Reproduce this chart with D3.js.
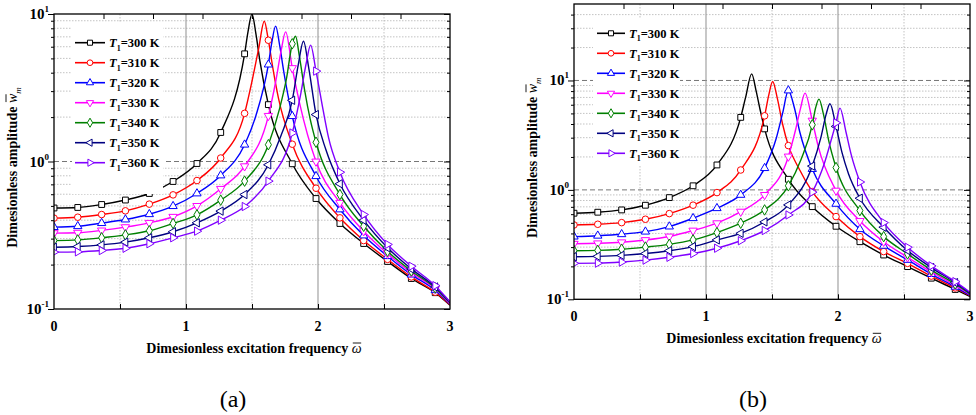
<!DOCTYPE html>
<html>
<head>
<meta charset="utf-8">
<script src="https://cdn.jsdelivr.net/npm/d3@7"></script>
<style>
  body { margin: 0; background: #fff; }
  svg { display: block; font-family: "Liberation Serif", "Times New Roman", serif; }
</style>
</head>
<body>
<svg id="chart" width="976" height="415"></svg>
<script>
// temperatures and the shared marker positions along the frequency axis
const temps = ["300", "310", "320", "330", "340", "350", "360"];
const markerX = [0, 0.18, 0.361, 0.541, 0.722, 0.902, 1.083, 1.263, 1.444, 1.624, 1.805, 1.985, 2.166, 2.346, 2.527, 2.707, 2.888];

// panel (a): amplitudes at the marker positions
const a300 = [0.484, 0.488, 0.511, 0.548, 0.607, 0.732, 0.969, 1.573, 5.37, 2.43, 0.965, 0.561, 0.380, 0.278, 0.210, 0.161, 0.129];
const a310 = [0.413, 0.419, 0.437, 0.463, 0.514, 0.594, 0.743, 1.056, 2.12, 6.64, 1.31, 0.659, 0.415, 0.291, 0.217, 0.165, 0.130];
const a320 = [0.359, 0.364, 0.382, 0.404, 0.439, 0.498, 0.607, 0.804, 1.30, 4.54, 2.03, 0.795, 0.473, 0.315, 0.228, 0.171, 0.134];
const a330 = [0.327, 0.329, 0.341, 0.359, 0.384, 0.422, 0.500, 0.653, 0.929, 2.04, 4.3, 1.00, 0.525, 0.337, 0.237, 0.176, 0.137];
const a340 = [0.291, 0.294, 0.304, 0.318, 0.339, 0.380, 0.435, 0.547, 0.736, 1.30, 6.28, 1.35, 0.597, 0.364, 0.246, 0.181, 0.139];
const a350 = [0.262, 0.265, 0.272, 0.284, 0.304, 0.334, 0.384, 0.461, 0.597, 0.95, 2.6, 2.08, 0.706, 0.400, 0.260, 0.187, 0.141];
const a360 = [0.243, 0.244, 0.249, 0.258, 0.277, 0.304, 0.337, 0.400, 0.495, 0.736, 1.56, 4.1, 0.846, 0.437, 0.274, 0.195, 0.144];
// panel (a): extra curve points around the resonance peaks and the end value
const ae300 = [[1.47, 7.6], [1.50, 10.0], [1.53, 7.3], [1.56, 4.8], [3, 0.106]];
const ae310 = [[1.50, 3.5], [1.55, 5.8], [1.593, 8.94], [1.66, 4.2], [1.70, 2.7], [3, 0.107]];
const ae320 = [[1.53, 2.05], [1.65, 6.4], [1.679, 8.27], [1.71, 6.1], [1.74, 4.1], [3, 0.108]];
const ae330 = [[1.68, 3.5], [1.72, 5.6], [1.755, 7.57], [1.86, 2.5], [3, 0.109]];
const ae340 = [[1.71, 2.3], [1.76, 3.6], [1.83, 7.07], [1.86, 5.1], [1.90, 3.0], [1.94, 1.95], [3, 0.110]];
const ae350 = [[1.72, 1.5], [1.85, 4.5], [1.89, 6.54], [1.93, 4.3], [2.06, 1.2], [3, 0.111]];
const ae360 = [[1.87, 2.9], [1.91, 4.6], [1.944, 6.15], [2.04, 2.2], [2.08, 1.45], [3, 0.112]];

// panel (b): amplitudes at the marker positions
const b300 = [0.612, 0.625, 0.656, 0.724, 0.85, 1.09, 1.69, 4.6, 3.61, 1.25, 0.703, 0.465, 0.336, 0.254, 0.199, 0.156, 0.123];
const b310 = [0.478, 0.485, 0.502, 0.539, 0.607, 0.725, 0.945, 1.52, 4.75, 2.54, 0.965, 0.57, 0.374, 0.273, 0.213, 0.163, 0.127];
const b320 = [0.374, 0.381, 0.393, 0.415, 0.462, 0.551, 0.68, 0.90, 1.58, 8.1, 1.55, 0.745, 0.437, 0.308, 0.229, 0.170, 0.130];
const b330 = [0.322, 0.325, 0.332, 0.348, 0.375, 0.425, 0.496, 0.633, 0.90, 2.02, 4.3, 0.985, 0.52, 0.336, 0.242, 0.178, 0.134];
const b340 = [0.278, 0.280, 0.287, 0.300, 0.318, 0.349, 0.407, 0.496, 0.656, 1.09, 3.93, 1.60, 0.647, 0.374, 0.260, 0.185, 0.138];
const b350 = [0.245, 0.247, 0.252, 0.262, 0.278, 0.303, 0.349, 0.401, 0.51, 0.729, 1.65, 3.8, 0.839, 0.456, 0.279, 0.195, 0.142];
const b360 = [0.213, 0.214, 0.219, 0.228, 0.242, 0.262, 0.293, 0.343, 0.425, 0.59, 0.953, 4.1, 1.18, 0.502, 0.299, 0.202, 0.145];
// panel (b): extra curve points
const be300 = [[1.30, 7.0], [1.346, 11.5], [1.38, 8.0], [1.41, 5.4], [3, 0.106]];
const be310 = [[1.475, 7.3], [1.505, 9.8], [1.54, 6.9], [1.58, 4.0], [1.70, 1.6], [3, 0.108]];
const be320 = [[1.53, 2.9], [1.58, 5.0], [1.67, 5.6], [1.71, 3.4], [3, 0.109]];
const be330 = [[1.68, 3.6], [1.715, 5.5], [1.75, 7.67], [1.85, 2.5], [3, 0.111]];
const be340 = [[1.72, 1.9], [1.83, 5.6], [1.856, 6.76], [1.89, 4.9], [1.93, 2.8], [3, 0.112]];
const be350 = [[1.87, 3.0], [1.91, 4.9], [1.939, 6.12], [2.03, 2.2], [2.08, 1.4], [3, 0.114]];
const be360 = [[1.90, 1.8], [1.95, 2.9], [2.015, 5.59], [2.06, 3.4], [2.10, 2.1], [3, 0.116]];

const xTicks = [0, 1, 2, 3];

const colors = ["#000000", "#ff0000", "#0000ff", "#ff00ff", "#008000", "#000080", "#8000ff"];
const shapes = [
  { type: d3.symbolSquare, size: 34, rot: 0 },
  { type: d3.symbolCircle, size: 34, rot: 0 },
  { type: d3.symbolTriangle, size: 30, rot: 0 },
  { type: d3.symbolTriangle, size: 30, rot: 180 },
  { type: d3.symbolDiamond, size: 32, rot: 0 },
  { type: d3.symbolTriangle, size: 30, rot: -90 },
  { type: d3.symbolTriangle, size: 30, rot: 90 }
];

const panels = [
  {
    id: "a", left: 54, right: 450, top: 14, bottom: 309, ymax: 10,
    series: [a300, a310, a320, a330, a340, a350, a360],
    extras: [ae300, ae310, ae320, ae330, ae340, ae350, ae360],
    legend: { x: 72, y: 23, w: 91, h: 171, lx0: 75, lx1: 105, tx: 109, y0: 42.7, dy: 20 },
    label: "(a)", labelX: 233
  },
  {
    id: "b", left: 574, right: 970, top: 4, bottom: 299.3, ymax: 50,
    series: [b300, b310, b320, b330, b340, b350, b360],
    extras: [be300, be310, be320, be330, be340, be350, be360],
    legend: { x: 593, y: 18, w: 87, h: 147, lx0: 597, lx1: 625, tx: 629, y0: 33.3, dy: 20 },
    label: "(b)", labelX: 753
  }
];

const svg = d3.select("#chart");
const defs = svg.append("defs");

function marker(sel, i, cx, cy, scale) {
  const s = shapes[i];
  sel.append("path")
    .attr("d", d3.symbol().type(s.type).size(s.size * (scale || 1))())
    .attr("transform", `translate(${cx},${cy}) rotate(${s.rot})`)
    .attr("fill", "#fff")
    .attr("stroke", colors[i])
    .attr("stroke-width", 1);
}

function overline(g, textEl, charIndex, dy) {
  const box = textEl.getExtentOfChar(charIndex);
  g.append("line")
    .attr("x1", box.x + 1).attr("x2", box.x + box.width - 0.5)
    .attr("y1", box.y + dy).attr("y2", box.y + dy)
    .attr("stroke", "#000").attr("stroke-width", 0.9);
}

function drawPanel(p) {
  const x = d3.scaleLinear().domain([0, 3]).range([p.left, p.right]);
  const y = d3.scaleLog().domain([0.1, p.ymax]).range([p.bottom, p.top]);
  const g = svg.append("g");

  defs.append("clipPath").attr("id", "clip-" + p.id)
    .append("rect")
    .attr("x", p.left).attr("y", p.top)
    .attr("width", p.right - p.left).attr("height", p.bottom - p.top);

  // minor / major decade values
  const minorVals = [];
  for (let e = -1; e <= 1; e++) {
    for (let m = 2; m <= 9; m++) {
      const v = m * Math.pow(10, e);
      if (v < p.ymax * 0.999) minorVals.push(v);
    }
  }
  const majorVals = [0.1, 1, 10].filter(v => v <= p.ymax);

  // grid
  const grid = g.append("g");
  grid.selectAll(".hmin").data(minorVals).join("line")
    .attr("x1", p.left).attr("x2", p.right)
    .attr("y1", d => y(d)).attr("y2", d => y(d))
    .attr("stroke", "#b4b4b4").attr("stroke-width", 0.8).attr("stroke-dasharray", "1.5,1.5");
  grid.selectAll(".hmaj").data(majorVals.filter(v => v > 0.1 && v < p.ymax)).join("line")
    .attr("x1", p.left).attr("x2", p.right)
    .attr("y1", d => y(d)).attr("y2", d => y(d))
    .attr("stroke", "#666").attr("stroke-width", 0.9).attr("stroke-dasharray", "5,3");
  grid.selectAll(".vmin").data([0.5, 1.5, 2.5]).join("line")
    .attr("x1", d => x(d)).attr("x2", d => x(d))
    .attr("y1", p.top).attr("y2", p.bottom)
    .attr("stroke", "#b4b4b4").attr("stroke-width", 0.8).attr("stroke-dasharray", "1.5,1.5");
  grid.selectAll(".vmaj").data([1, 2]).join("line")
    .attr("x1", d => x(d)).attr("x2", d => x(d))
    .attr("y1", p.top).attr("y2", p.bottom)
    .attr("stroke", "#9a9a9a").attr("stroke-width", 1.1);

  // curves and markers
  const line = d3.line().x(d => x(d[0])).y(d => y(d[1])).curve(d3.curveMonotoneX);
  const cg = g.append("g").attr("clip-path", `url(#clip-${p.id})`);
  p.series.forEach((vals, i) => {
    const pts = markerX.map((mx, k) => [mx, vals[k]]).concat(p.extras[i]).sort((a, b) => a[0] - b[0]);
    cg.append("path")
      .attr("d", line(pts))
      .attr("fill", "none")
      .attr("stroke", colors[i])
      .attr("stroke-width", 1.4);
    markerX.forEach((mx, k) => marker(cg, i, x(mx), y(vals[k])));
  });

  // legend
  const L = p.legend;
  g.append("rect").attr("x", L.x).attr("y", L.y).attr("width", L.w).attr("height", L.h).attr("fill", "#fff");
  temps.forEach((t, i) => {
    const ly = L.y0 + i * L.dy;
    g.append("line")
      .attr("x1", L.lx0).attr("x2", L.lx1).attr("y1", ly).attr("y2", ly)
      .attr("stroke", colors[i]).attr("stroke-width", 1.6);
    marker(g, i, (L.lx0 + L.lx1) / 2, ly, 0.75);
    const txt = g.append("text")
      .attr("x", L.tx).attr("y", ly + 4.5)
      .attr("font-size", 12.5).attr("font-weight", "bold");
    txt.append("tspan").attr("font-style", "italic").text("T");
    txt.append("tspan").attr("font-size", 8).attr("dy", 3.5).text("1");
    txt.append("tspan").attr("dy", -3.5).text("=" + t + " K");
  });

  // axes ticks
  const ax = g.append("g");
  ax.append("g").attr("transform", `translate(${p.left},0)`)
    .call(d3.axisLeft(y).tickValues(majorVals).tickSize(6).tickSizeOuter(0).tickFormat(""))
    .call(s => s.select(".domain").remove());
  ax.append("g").attr("transform", `translate(${p.left},0)`)
    .call(d3.axisLeft(y).tickValues(minorVals).tickSize(3).tickSizeOuter(0).tickFormat(""))
    .call(s => s.select(".domain").remove());
  ax.append("g").attr("transform", `translate(${p.right},0)`)
    .call(d3.axisLeft(y).tickValues(majorVals).tickSize(6).tickSizeOuter(0).tickFormat(""))
    .call(s => s.select(".domain").remove());
  ax.append("g").attr("transform", `translate(${p.right},0)`)
    .call(d3.axisLeft(y).tickValues(minorVals).tickSize(3).tickSizeOuter(0).tickFormat(""))
    .call(s => s.select(".domain").remove());
  ax.append("g").attr("transform", `translate(0,${p.top})`)
    .call(d3.axisBottom(x).tickValues([0.375, 0.75, 1.125, 1.5, 1.875, 2.25, 2.625]).tickSize(5).tickSizeOuter(0).tickFormat(""))
    .call(s => s.select(".domain").remove());
  ax.append("g").attr("transform", `translate(0,${p.bottom})`)
    .call(d3.axisTop(x).tickValues([0.5, 1, 1.5, 2, 2.5]).tickSize(5).tickSizeOuter(0).tickFormat(""))
    .call(s => s.select(".domain").remove());
  ax.selectAll("line").attr("stroke", "#000").attr("stroke-width", 1);

  g.append("rect")
    .attr("x", p.left).attr("y", p.top)
    .attr("width", p.right - p.left).attr("height", p.bottom - p.top)
    .attr("fill", "none").attr("stroke", "#000").attr("stroke-width", 1.3);

  // tick labels
  majorVals.forEach(v => {
    const t = g.append("text")
      .attr("x", p.left - 5).attr("y", y(v) + 5)
      .attr("text-anchor", "end").attr("font-weight", "bold").attr("font-size", 15);
    t.append("tspan").text("10");
    t.append("tspan").attr("dy", -7).attr("font-size", 9).text(String(Math.round(Math.log10(v))));
  });
  g.selectAll(".xl").data(xTicks).join("text")
    .attr("x", d => x(d)).attr("y", p.bottom + 22)
    .attr("text-anchor", "middle").attr("font-weight", "bold").attr("font-size", 14)
    .text(d => d);

  // x title with overlined omega
  const xt = g.append("text")
    .attr("x", (p.left + p.right) / 2 + 2).attr("y", p.bottom + 44)
    .attr("text-anchor", "middle").attr("font-weight", "bold").attr("font-size", 14);
  xt.append("tspan").text("Dimesionless excitation frequency ");
  xt.append("tspan").attr("font-style", "italic").attr("font-weight", "normal").text("ω");
  overline(g, xt.node(), xt.text().length - 1, 2);

  // y title with overlined w and subscript m
  const yg = g.append("g").attr("transform", `translate(${p.left - 37},${(p.top + p.bottom) / 2 + 6}) rotate(-90)`);
  const yt = yg.append("text")
    .attr("x", 0).attr("y", 0)
    .attr("text-anchor", "middle").attr("font-weight", "bold").attr("font-size", 14);
  yt.append("tspan").text("Dimesionless amplitude ");
  yt.append("tspan").attr("font-style", "italic").attr("font-weight", "normal").text("w");
  yt.append("tspan").attr("font-style", "italic").attr("font-weight", "normal").attr("font-size", 9).attr("dy", 4).text("m");
  overline(yg, yt.node(), "Dimesionless amplitude ".length, 1);

  // panel label
  g.append("text")
    .attr("x", p.labelX).attr("y", 407)
    .attr("text-anchor", "middle").attr("font-size", 24)
    .text(p.label);
}

panels.forEach(drawPanel);
</script>
</body>
</html>
